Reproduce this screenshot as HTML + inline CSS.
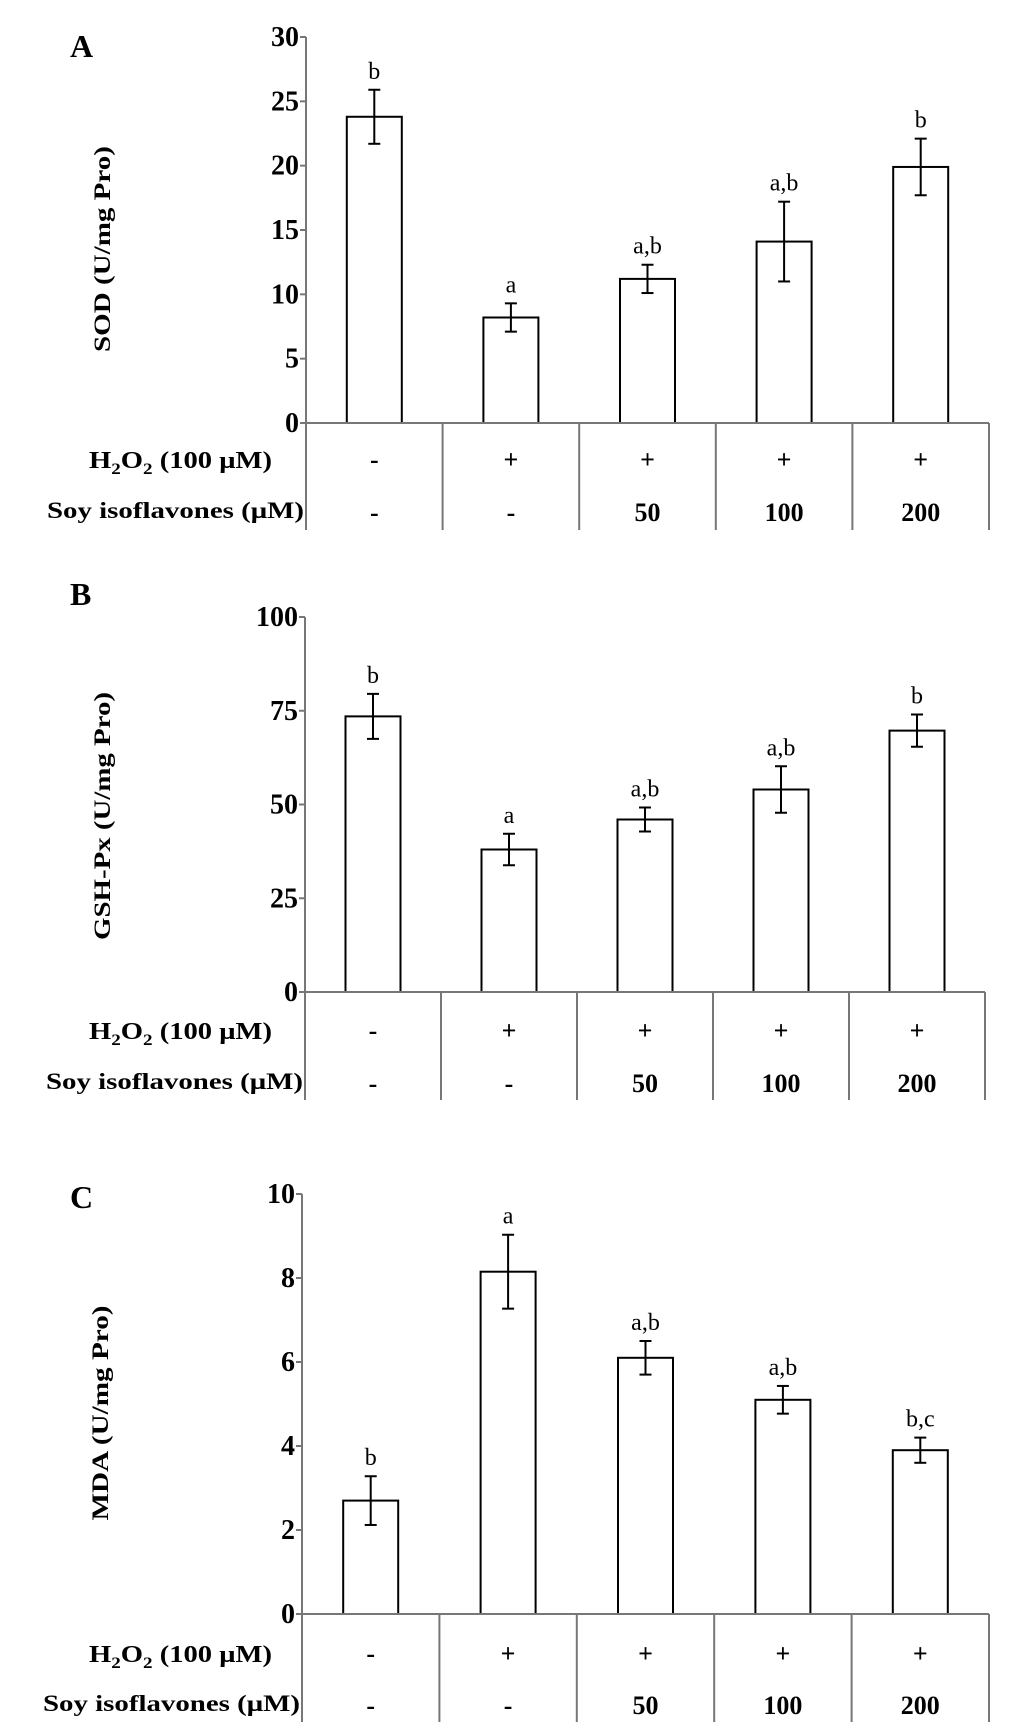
<!DOCTYPE html>
<html><head><meta charset="utf-8"><style>
html,body{margin:0;padding:0;background:#fff;}
svg{display:block;font-family:"Liberation Serif",serif;}
</style></head>
<body>
<svg id="fig" width="1033" height="1730" viewBox="0 0 1033 1730"></svg>
<script>
const categories = ["control", "H2O2", "H2O2+50", "H2O2+100", "H2O2+200"];
const h2o2Labels = ["-", "+", "+", "+", "+"];
const soyLabels = ["-", "-", "50", "100", "200"];
const sodValues = [23.8, 8.2, 11.2, 14.1, 19.9];
const sodErrors = [2.1, 1.1, 1.1, 3.1, 2.2];
const sodLetters = ["b", "a", "a,b", "a,b", "b"];
const sodTicks = [0, 5, 10, 15, 20, 25, 30];
const gshValues = [73.5, 38, 46, 54, 69.7];
const gshErrors = [6, 4.2, 3.2, 6.2, 4.3];
const gshLetters = ["b", "a", "a,b", "a,b", "b"];
const gshTicks = [0, 25, 50, 75, 100];
const mdaValues = [2.7, 8.15, 6.1, 5.1, 3.9];
const mdaErrors = [0.58, 0.88, 0.4, 0.33, 0.3];
const mdaLetters = ["b", "a", "a,b", "a,b", "b,c"];
const mdaTicks = [0, 2, 4, 6, 8, 10];

const NS = "http://www.w3.org/2000/svg";
const svg = document.getElementById("fig");
function mk(tag, attrs, parent, text) {
  const e = document.createElementNS(NS, tag);
  for (const k in attrs) e.setAttribute(k, attrs[k]);
  if (text !== undefined) e.textContent = text;
  (parent || svg).appendChild(e);
  return e;
}

function panel(cfg, values, errors, letters, ticks) {
  const g = mk("g", {});
  
  
  const ymax = ticks[ticks.length - 1];
  const y = v => cfg.y0 - (v / ymax) * (cfg.y0 - cfg.yTop);
  const n = categories.length;
  const bw = (cfg.xR - cfg.x0) / n;
  const xc = i => cfg.x0 + bw * (i + 0.5);

  const lab = mk("text", {x: 70, y: cfg.letterY, "font-size": 32, "font-weight": "bold"}, g, cfg.id);
  
  

  const ty = mk("text", {transform: `translate(${cfg.titleX},${cfg.titleY}) rotate(-90)`, "text-anchor": "middle", "font-size": 23, "font-weight": "bold", textLength: cfg.titleLen, lengthAdjust: "spacingAndGlyphs"}, g, cfg.title);
  
  

  values.forEach((v, i) => {
    const bx = xc(i) - 27.5;
    const r = mk("rect", {x: bx, y: y(v), width: 55, height: cfg.y0 - y(v), fill: "#fff", stroke: "#000", "stroke-width": 2}, g);
    
    
    const e = errors[i];
    const eg = mk("g", {stroke: "#000", "stroke-width": 2}, g);
    
    
    mk("line", {x1: xc(i), x2: xc(i), y1: y(v + e), y2: y(v - e)}, eg);
    mk("line", {x1: xc(i) - 6, x2: xc(i) + 6, y1: y(v + e), y2: y(v + e)}, eg);
    mk("line", {x1: xc(i) - 6, x2: xc(i) + 6, y1: y(v - e), y2: y(v - e)}, eg);
    const t = mk("text", {x: xc(i), y: y(v + e) - 11, "text-anchor": "middle", "font-size": 24}, g, letters[i]);
    
    
  });

  const ax = mk("g", {stroke: "#777", "stroke-width": 2}, g);
  
  
  mk("line", {x1: cfg.x0, x2: cfg.x0, y1: cfg.yTop, y2: cfg.tableBottom}, ax);
  mk("line", {x1: cfg.x0, x2: cfg.xR, y1: cfg.y0, y2: cfg.y0}, ax);
  for (let i = 1; i <= n; i++) {
    mk("line", {x1: cfg.x0 + bw * i, x2: cfg.x0 + bw * i, y1: cfg.y0, y2: cfg.tableBottom}, ax);
  }
  ticks.forEach(t => {
    mk("line", {x1: cfg.x0 - 6, x2: cfg.x0, y1: y(t), y2: y(t)}, ax);
    const tl = mk("text", {x: cfg.x0 - 7, y: y(t) + 9, "text-anchor": "end", "font-size": 28, "font-weight": "bold"}, g, String(t));
    
    
  });

  const h = mk("text", {x: 89, y: cfg.row1, "text-anchor": "start", "font-size": 24, "font-weight": "bold", textLength: 183, lengthAdjust: "spacingAndGlyphs"}, g);
  
  
  mk("tspan", {}, h, "H");
  mk("tspan", {dy: 6, "font-size": 16}, h, "2");
  mk("tspan", {dy: -6}, h, "O");
  mk("tspan", {dy: 6, "font-size": 16}, h, "2");
  mk("tspan", {dy: -6}, h, " (100 μM)");
  const s = mk("text", {x: cfg.x0 - 2, y: cfg.row2, "text-anchor": "end", "font-size": 23, "font-weight": "bold", textLength: 257, lengthAdjust: "spacingAndGlyphs"}, g, "Soy isoflavones (μM)");
  
  
  categories.forEach((c, i) => {
    const a = mk("text", {x: xc(i), y: cfg.row1, "text-anchor": "middle", "font-size": 26, "font-weight": "bold"}, g, h2o2Labels[i]);
    
    
    const b = mk("text", {x: xc(i), y: cfg.row2 + 3, "text-anchor": "middle", "font-size": 26, "font-weight": "bold"}, g, soyLabels[i]);
    
    
  });
}

panel({id: "A", title: "SOD (U/mg Pro)", titleLen: 206, titleX: 110, titleY: 249, letterY: 57,
  x0: 306, xR: 989, yTop: 37, y0: 423, row1: 468, row2: 518, tableBottom: 530}, sodValues, sodErrors, sodLetters, sodTicks);
panel({id: "B", title: "GSH-Px (U/mg Pro)", titleLen: 248, titleX: 110, titleY: 816, letterY: 605,
  x0: 305, xR: 985, yTop: 617, y0: 992, row1: 1039, row2: 1089, tableBottom: 1100}, gshValues, gshErrors, gshLetters, gshTicks);
panel({id: "C", title: "MDA (U/mg Pro)", titleLen: 215, titleX: 108, titleY: 1413, letterY: 1208,
  x0: 302, xR: 989, yTop: 1194, y0: 1614, row1: 1662, row2: 1711, tableBottom: 1722}, mdaValues, mdaErrors, mdaLetters, mdaTicks);
</script>
</body></html>
